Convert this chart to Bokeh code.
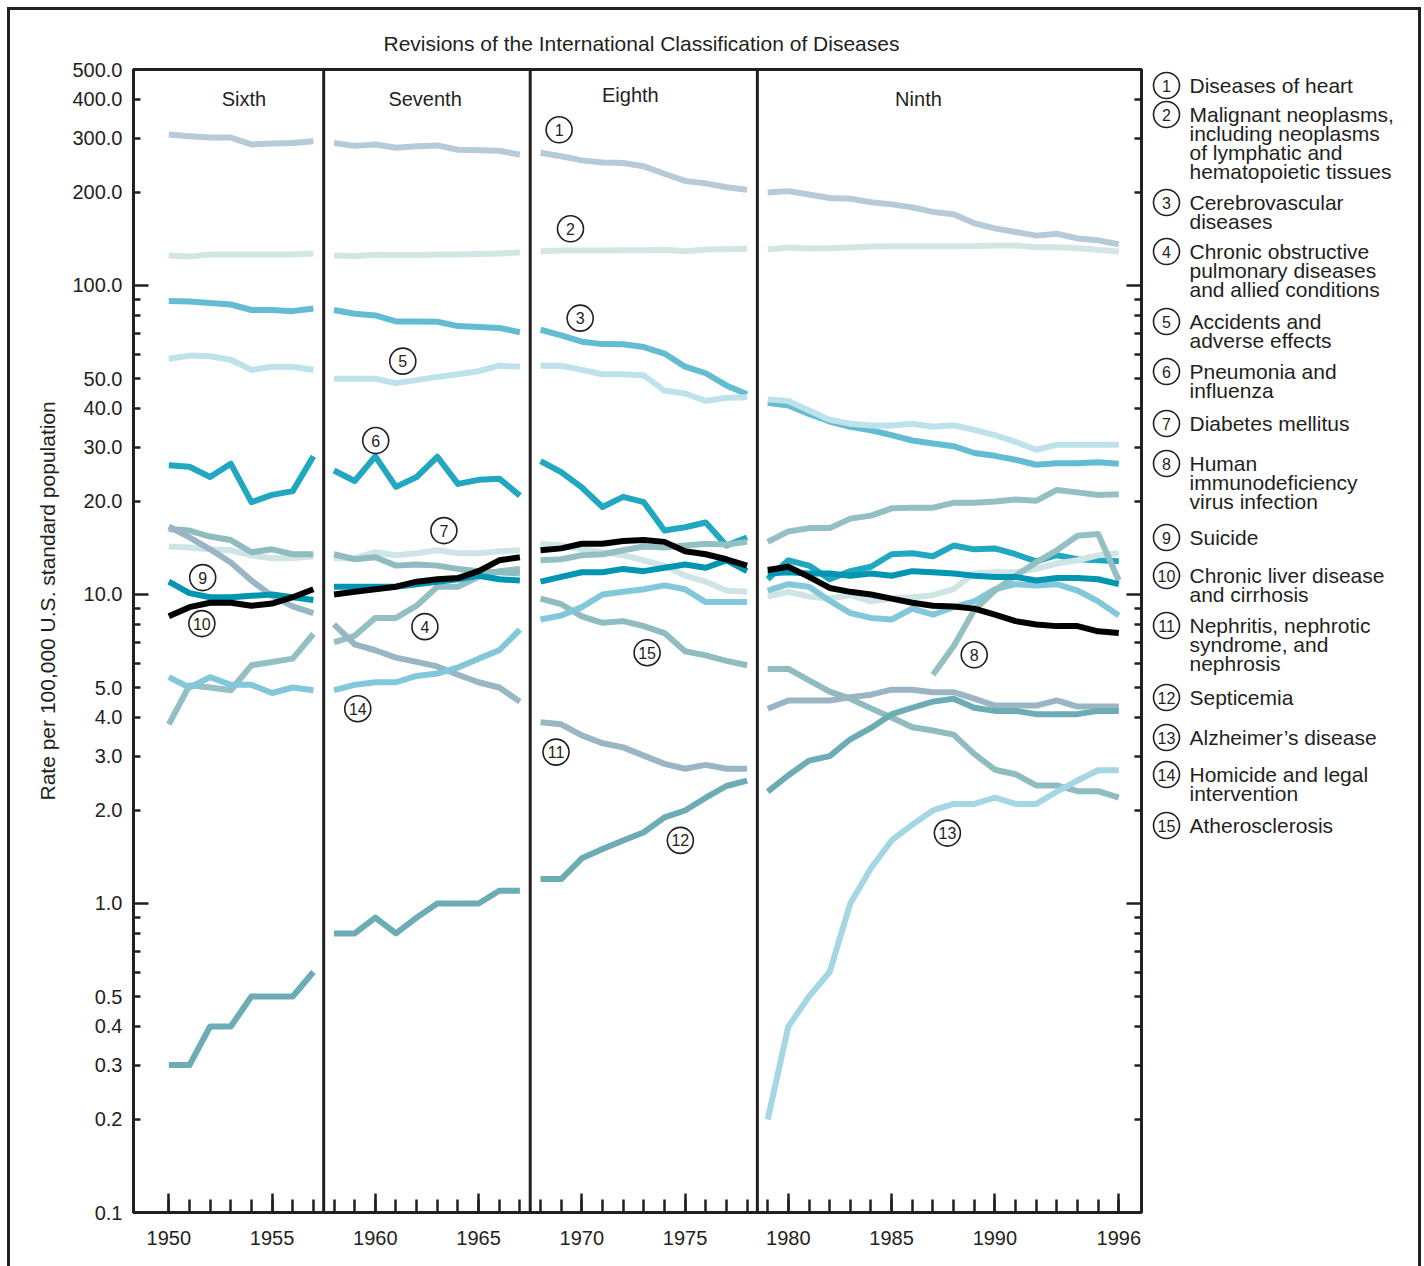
import math
from bokeh.plotting import figure
from bokeh.models import FixedTicker, LogAxis, Span, PrintfTickFormatter, Range1d, Title
from bokeh.layouts import row
from bokeh.embed import file_html
from bokeh.resources import INLINE
from bokeh.core.properties import value

NaN = float("nan")

# ---------------- data ----------------
years = list(range(1950, 1997))
revision_breaks = [1957.5, 1967.5, 1978.5]
revision_names = ["Sixth", "Seventh", "Eighth", "Ninth"]

heart = [308, 304, 301, 301, 286, 288, 289, 293,
         289, 283, 286, 279, 282, 284, 275, 274, 273, 265,
         269, 262, 254, 250, 249, 243, 230, 218, 214, 208, 204,
         200, 202, 197, 192, 191, 186, 183, 179, 173, 170, 159, 153, 149, 145, 147, 142, 140, 136]
cancer = [125, 124, 126, 126, 126, 126, 126, 127,
          125, 124.6, 125.8, 125.4, 125.6, 126, 126, 126.4, 127, 127.8,
          129, 129.8, 129.8, 129.8, 130, 130, 130.5, 129, 130.8, 131, 131.5,
          130.8, 132.8, 131.8, 132, 132.8, 133.7, 134, 134, 134, 134, 134, 134.7, 134.7, 133, 133, 132, 130.6, 128.8]
cerebro = [89.0, 88.8, 87.7, 86.8, 83.3, 83.3, 82.6, 84.3,
           83.3, 81.0, 80.0, 76.5, 76.5, 76.3, 73.9, 73.4, 72.9, 70.6,
           71.9, 68.9, 65.8, 64.6, 64.5, 63.2, 60.2, 54.6, 52.0, 47.5, 44.5,
           41.7, 40.9, 38.4, 36.3, 34.9, 34.0, 32.8, 31.5, 30.8, 30.2, 28.7, 28.1, 27.3, 26.3, 26.6, 26.6, 26.8, 26.5]
copd = [3.8, 5.08, 5.0, 4.9, 5.9, 6.05, 6.2, 7.45,
        7.0, 7.35, 8.4, 8.4, 9.2, 10.6, 10.6, 11.4, 11.9, 12.1,
        12.9, 13.0, 13.4, 13.5, 13.9, 14.3, 14.2, 14.4, 14.6, 14.5, 14.8,
        14.8, 16.0, 16.4, 16.4, 17.6, 18.0, 19.0, 19.1, 19.1, 19.8, 19.8, 20.0, 20.3, 20.1, 21.8, 21.4, 21.0, 21.1]
accidents = [57.9, 59.3, 59.0, 57.5, 53.3, 54.6, 54.6, 53.3,
             49.9, 49.9, 49.9, 48.3, 49.4, 50.6, 51.6, 52.8, 55.0, 54.6,
             55.0, 55.0, 53.3, 51.6, 51.6, 51.2, 45.7, 44.7, 42.3, 43.3, 43.5,
             42.8, 42.3, 39.4, 36.8, 35.7, 35.2, 35.2, 35.7, 34.9, 35.3, 34.1, 32.8, 31.2, 29.4, 30.5, 30.5, 30.5, 30.5]
pneumonia = [26.2, 25.9, 24.0, 26.5, 19.9, 21.0, 21.6, 28.0,
             25.2, 23.3, 28.0, 22.3, 24.0, 27.9, 22.8, 23.5, 23.7, 20.9,
             27.0, 24.9, 22.2, 19.2, 20.7, 19.9, 16.1, 16.5, 17.1, 14.4, 15.3,
             11.2, 12.9, 12.4, 11.2, 11.9, 12.3, 13.5, 13.6, 13.3, 14.4, 14.0, 14.1, 13.5, 12.8, 13.4, 13.0, 12.9, 12.8]
diabetes = [14.3, 14.2, 14.0, 13.9, 13.4, 13.1, 13.1, 13.3,
            13.1, 13.1, 13.7, 13.4, 13.6, 13.9, 13.6, 13.6, 13.8, 13.9,
            14.6, 14.4, 14.0, 13.7, 13.4, 12.9, 12.4, 11.5, 11.0, 10.3, 10.2,
            9.85, 10.2, 9.85, 9.7, 9.95, 9.5, 9.7, 9.8, 9.95, 10.4, 11.7, 11.8, 11.8, 12.1, 12.6, 12.9, 13.4, 13.6]
hiv = [NaN] * 37 + [5.5, 6.8, 8.9, 10.3, 11.5, 12.7, 13.9, 15.5, 15.7, 11.1]
suicide = [11.0, 10.1, 9.8, 9.8, 9.9, 10.0, 9.8, 9.6,
           10.6, 10.6, 10.6, 10.6, 10.8, 11.0, 11.2, 11.5, 11.2, 11.1,
           11.0, 11.4, 11.8, 11.8, 12.1, 11.9, 12.2, 12.5, 12.2, 12.9, 11.9,
           11.7, 11.8, 11.7, 11.7, 11.5, 11.7, 11.5, 11.9, 11.8, 11.7, 11.5, 11.4, 11.4, 11.1, 11.3, 11.3, 11.2, 10.8]
liver = [8.5, 9.1, 9.4, 9.4, 9.2, 9.35, 9.8, 10.4,
         10.0, 10.2, 10.4, 10.6, 11.0, 11.2, 11.3, 11.9, 12.9, 13.2,
         13.9, 14.1, 14.6, 14.6, 14.9, 15.0, 14.8, 13.8, 13.5, 13.0, 12.4,
         12.0, 12.3, 11.4, 10.5, 10.2, 10.0, 9.7, 9.4, 9.2, 9.15, 9.0, 8.6, 8.2, 8.0, 7.9, 7.9, 7.6, 7.5]
nephritis = [16.6, 15.3, 14.0, 12.7, 11.1, 9.9, 9.15, 8.7,
             8.0, 6.9, 6.6, 6.25, 6.05, 5.85, 5.5, 5.2, 5.0, 4.5,
             3.86, 3.8, 3.5, 3.3, 3.2, 3.01, 2.83, 2.73, 2.81, 2.73, 2.73,
             4.27, 4.54, 4.54, 4.54, 4.65, 4.74, 4.92, 4.92, 4.83, 4.83, 4.6, 4.37, 4.37, 4.37, 4.54, 4.34, 4.34, 4.34]
septicemia = [0.3, 0.3, 0.4, 0.4, 0.5, 0.5, 0.5, 0.6,
              0.8, 0.8, 0.9, 0.8, 0.9, 1.0, 1.0, 1.0, 1.1, 1.1,
              1.2, 1.2, 1.4, 1.5, 1.6, 1.7, 1.9, 2.0, 2.2, 2.4, 2.5,
              2.3, 2.6, 2.9, 3.0, 3.4, 3.7, 4.1, 4.3, 4.5, 4.6, 4.3, 4.2, 4.2, 4.1, 4.1, 4.1, 4.2, 4.2]
alzheimers = [NaN] * 29 + [0.2, 0.4, 0.5, 0.6, 1.0, 1.3, 1.6, 1.8, 2.0, 2.1, 2.1, 2.2, 2.1, 2.1, 2.3, 2.5, 2.7, 2.7]
homicide = [5.4, 5.0, 5.4, 5.1, 5.1, 4.8, 5.0, 4.9,
            4.9, 5.1, 5.2, 5.2, 5.45, 5.55, 5.8, 6.2, 6.6, 7.7,
            8.3, 8.55, 9.1, 10.0, 10.2, 10.4, 10.7, 10.4, 9.45, 9.45, 9.45,
            10.3, 10.8, 10.6, 9.55, 8.7, 8.4, 8.3, 9.0, 8.6, 9.1, 9.5, 10.4, 10.8, 10.7, 10.8, 10.3, 9.5, 8.55]
atherosclerosis = [16.3, 16.1, 15.4, 15.0, 13.7, 14.0, 13.5, 13.5,
                   13.5, 13.0, 13.2, 12.4, 12.5, 12.4, 12.1, 11.9, 11.8, 11.7,
                   9.7, 9.3, 8.5, 8.1, 8.2, 7.9, 7.5, 6.55, 6.35, 6.1, 5.9,
                   5.74, 5.74, 5.27, 4.85, 4.6, 4.28, 4.0, 3.72, 3.63, 3.52, 3.05, 2.71, 2.62, 2.41, 2.41, 2.31, 2.31, 2.2]

cause_names = [
    "Diseases of heart",
    "Malignant neoplasms,\nincluding neoplasms\nof lymphatic and\nhematopoietic tissues",
    "Cerebrovascular\ndiseases",
    "Chronic obstructive\npulmonary diseases\nand allied conditions",
    "Accidents and\nadverse effects",
    "Pneumonia and\ninfluenza",
    "Diabetes mellitus",
    "Human\nimmunodeficiency\nvirus infection",
    "Suicide",
    "Chronic liver disease\nand cirrhosis",
    "Nephritis, nephrotic\nsyndrome, and\nnephrosis",
    "Septicemia",
    "Alzheimer\u2019s disease",
    "Homicide and legal\nintervention",
    "Atherosclerosis",
]
series = [heart, cancer, cerebro, copd, accidents, pneumonia, diabetes, hiv,
          suicide, liver, nephritis, septicemia, alzheimers, homicide, atherosclerosis]

y_labeled_ticks = [0.1, 0.2, 0.3, 0.4, 0.5, 1, 2, 3, 4, 5, 10, 20, 30, 40, 50, 100, 200, 300, 400, 500]
y_long_ticks = [1, 10, 100]
y_short_ticks = [0.2, 0.3, 0.4, 0.5, 0.6, 0.7, 0.8, 0.9, 2, 3, 4, 5, 6, 7, 8, 9,
                 20, 30, 40, 50, 60, 70, 80, 90, 200, 300, 400]
x_labeled_ticks = [1950, 1955, 1960, 1965, 1970, 1975, 1980, 1985, 1990, 1996]

# ---------------- styles / positions ----------------
colors = ["#b7cad7", "#d3e5e5", "#63bcd1", "#94c0c4", "#bee2ea", "#21a7c0", "#cfe4e4", "#94c0c4",
          "#0096b2", "#000000", "#9ab6c4", "#6cacb5", "#a4d6e3", "#82c8da", "#8fbcbf"]
draw_order = [1, 0, 2, 4, 5, 6, 3, 14, 10, 11, 12, 13, 7, 8, 9]

badge_x = [1968.9, 1969.45, 1969.92, 1962.4, 1961.33, 1960.02, 1963.32, 1989.0,
           1951.64, 1951.6, 1968.75, 1974.77, 1987.7, 1959.15, 1973.16]
badge_y = [319, 152.6, 78.4, 7.87, 56.9, 31.5, 16.1, 6.38,
           11.34, 8.05, 3.09, 1.60, 1.69, 4.27, 6.48]
rev_label_x = [1953.64, 1962.41, 1972.35, 1986.3]
rev_label_y = [402, 402, 415, 402]

INK = "#231f20"
FONT = "Liberation Sans"

# page-pixel geometry
PAD = 10            # page offset of the content box (margin + border)
FRAME_L, FRAME_R, FRAME_T, FRAME_B = 133, 1141, 69, 1212
W1 = FRAME_R - PAD + 4
H = 1266 - PAD
W2 = 1418 - PAD - W1

legend_y = [85, 114, 202, 251, 321, 371, 423, 463, 537, 575, 625, 697, 737, 774, 825]
legend_circle_x = 1166
legend_text_x = 1189

# ---------------- main figure ----------------
p = figure(width=W1, height=H, y_axis_type="log",
           x_range=Range1d(1948.29, 1997.1), y_range=Range1d(0.1, 500),
           output_backend="svg", toolbar_location=None,
           min_border_left=FRAME_L - PAD, min_border_right=4,
           min_border_top=FRAME_T - PAD, min_border_bottom=H - (FRAME_B - PAD),
           background_fill_color="white", border_fill_color="white")
p.xgrid.visible = False
p.ygrid.visible = False
p.outline_line_color = INK
p.outline_line_width = 3

p.title.text = "Revisions of the International Classification of Diseases"
p.title.align = "left"
p.title.offset = 250
p.title.text_font = FONT
p.title.text_font_size = "21px"
p.title.text_font_style = "normal"
p.title.text_color = INK
p.title.standoff = 29


def tick_only_axis(ax):
    ax.ticker = FixedTicker(ticks=y_long_ticks, minor_ticks=y_short_ticks)
    ax.major_tick_in = 15
    ax.major_tick_out = 0
    ax.minor_tick_in = 7
    ax.minor_tick_out = 0
    ax.major_tick_line_width = 2.5
    ax.minor_tick_line_width = 2.5
    ax.major_tick_line_color = INK
    ax.minor_tick_line_color = INK
    ax.axis_line_width = 3
    ax.axis_line_color = INK
    ax.major_label_text_font_size = "1px"
    ax.major_label_text_color = None
    ax.major_label_standoff = 0


tick_only_axis(p.yaxis[0])

lab = LogAxis(ticker=FixedTicker(ticks=y_labeled_ticks, minor_ticks=[]),
              formatter=PrintfTickFormatter(format="%.1f"),
              axis_line_color=None, major_tick_line_color=None, minor_tick_line_color=None,
              major_tick_in=0, major_tick_out=0, minor_tick_in=0, minor_tick_out=0,
              major_label_standoff=11,
              major_label_text_font=FONT, major_label_text_font_size="20px",
              major_label_text_color=INK)
p.add_layout(lab, "left")

ytitle = Title(text="Rate per 100,000 U.S. standard population", align="left", offset=412,
               standoff=21, text_font=FONT, text_font_size="21px", text_font_style="normal",
               text_color=INK)
p.add_layout(ytitle, "left")

rax = LogAxis()
tick_only_axis(rax)
p.add_layout(rax, "right")

xax = p.xaxis[0]
xax.ticker = FixedTicker(ticks=x_labeled_ticks, minor_ticks=years)
xax.formatter = PrintfTickFormatter(format="%d")
xax.major_tick_in = 19
xax.major_tick_out = 0
xax.minor_tick_in = 13
xax.minor_tick_out = 0
xax.major_tick_line_width = 2.5
xax.minor_tick_line_width = 2.5
xax.major_tick_line_color = INK
xax.minor_tick_line_color = INK
xax.axis_line_width = 3
xax.axis_line_color = INK
xax.major_label_text_font = FONT
xax.major_label_text_font_size = "20px"
xax.major_label_text_color = INK
xax.major_label_standoff = 18

for b in revision_breaks:
    p.add_layout(Span(location=b, dimension="height", line_color=INK, line_width=3))

edges = [years[0] - 0.5] + revision_breaks + [years[-1] + 0.5]
for idx in draw_order:
    vals = series[idx]
    for lo, hi in zip(edges[:-1], edges[1:]):
        xs = [yr for yr, v in zip(years, vals) if lo < yr < hi and not math.isnan(v)]
        ys = [v for yr, v in zip(years, vals) if lo < yr < hi and not math.isnan(v)]
        if len(xs) > 1:
            p.line(xs, ys, line_width=6, line_color=colors[idx], line_cap="butt", line_join="round")

numbers = [str(i + 1) for i in range(len(series))]
p.scatter(badge_x, badge_y, marker="circle", size=26, fill_color="white",
          line_color=INK, line_width=1.6)
p.text(badge_x, badge_y, text=numbers, text_align="center", text_baseline="middle",
       text_font=value(FONT), text_font_size="16px", text_color=INK)

p.text(rev_label_x, rev_label_y, text=revision_names, text_align="center", text_baseline="middle",
       text_font=value(FONT), text_font_size="20px", text_color=INK)

# ---------------- legend panel (ranges in page pixels; frame aligned with main frame) ----------------
x0 = PAD + W1
leg = figure(width=W2, height=H, x_range=Range1d(x0, x0 + W2), y_range=Range1d(FRAME_B, FRAME_T),
             output_backend="svg", toolbar_location=None,
             x_axis_location=None, y_axis_location=None,
             min_border_left=0, min_border_right=0, min_border_top=0, min_border_bottom=0,
             outline_line_color=None, background_fill_color="white", border_fill_color="white")
leg.grid.visible = False
cx = [legend_circle_x] * len(series)
tx = [legend_text_x] * len(series)
leg.scatter(cx, legend_y, marker="circle", size=26, fill_color="white",
            line_color=INK, line_width=1.6)
leg.text(cx, legend_y, text=numbers, text_align="center", text_baseline="middle",
         text_font=value(FONT), text_font_size="16px", text_color=INK)
leg.text(tx, [v - 11.5 for v in legend_y], text=cause_names, text_align="left", text_baseline="top",
         text_font=value(FONT), text_font_size="21px", text_color=INK, text_line_height=0.83)

layout = row(p, leg, styles={"margin": "7px 0 0 7px",
                             "border-top": "3px solid #231f20",
                             "border-left": "3px solid #231f20",
                             "border-right": "3px solid #231f20"})

open("out.html", "w").write(file_html(layout, INLINE))
